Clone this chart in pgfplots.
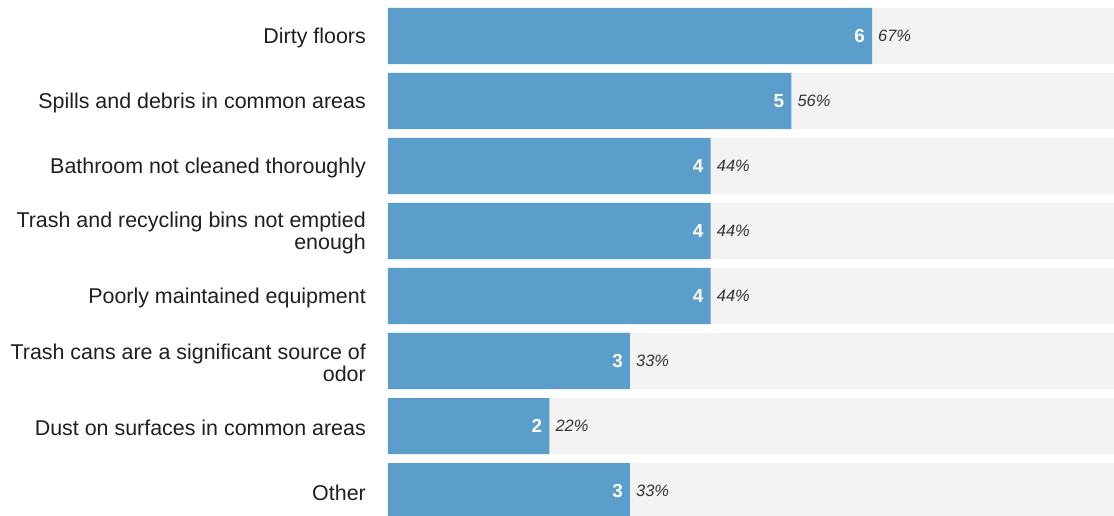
\documentclass[border=0pt]{standalone}
\usepackage{pgfplots}
\pgfplotsset{compat=1.18}
\usepackage{pgfplotstable}
\usepackage{fontspec}
\setmainfont{Liberation Sans}
\definecolor{barblue}{RGB}{91,158,203}
\definecolor{bggray}{RGB}{243,243,243}
\definecolor{pcttext}{RGB}{51,51,51}
\pgfplotstableread{
y n pct
0 6 67
1 5 56
2 4 44
3 4 44
4 4 44
5 3 33
6 2 22
7 3 33
}\data
\pgfplotstableread{
y n
0 9
1 9
2 9
3 9
4 9
5 9
6 9
7 9
}\bg
\begin{document}
\begin{tikzpicture}
\begin{axis}[
  name=ax,
  scale only axis,
  width=726bp, height=515bp,
  xmin=0, xmax=9,
  ymin=-0.5538, ymax=7.369,
  y dir=reverse,
  axis line style={draw=none},
  tick style={draw=none},
  xtick=\empty,
  ytick={0,1,2,3,4,5,6,7},
  yticklabels={Dirty floors,
    Spills and debris in common areas,
    Bathroom not cleaned thoroughly,
    {Trash and recycling bins not emptied\\enough},
    Poorly maintained equipment,
    {Trash cans are a significant source of\\odor},
    Dust on surfaces in common areas,
    Other},
  yticklabel style={font=\fontsize{21.5}{22}\selectfont, align=right, inner sep=0pt, xshift=-22bp, yshift=-1.5bp, text=black!88},
  /pgf/number format/assume math mode=true,
]
\addplot[xbar, bar shift=0pt, bar width=0.862, fill=bggray, draw=none] table[x=n, y=y]{\bg};
\addplot[xbar, bar shift=0pt, bar width=0.862, fill=barblue, draw=none,
  nodes near coords,
  nodes near coords style={anchor=east, inner sep=0pt, xshift=-7bp, text=white, font=\fontsize{19}{20}\selectfont\bfseries}]
  table[x=n, y=y]{\data};
\addplot[xbar, bar shift=0pt, bar width=0.862, fill=none, draw=none,
  point meta=explicit symbolic,
  nodes near coords={\pgfplotspointmeta\%},
  nodes near coords style={anchor=west, inner sep=0pt, xshift=6bp, text=pcttext, font=\fontsize{16.5}{18}\selectfont\itshape}]
  table[x=n, y=y, meta=pct]{\data};
\end{axis}
\pgfresetboundingbox
\path (ax.south west) ++(-388bp,0) rectangle (ax.north east);
\end{tikzpicture}
\end{document}
